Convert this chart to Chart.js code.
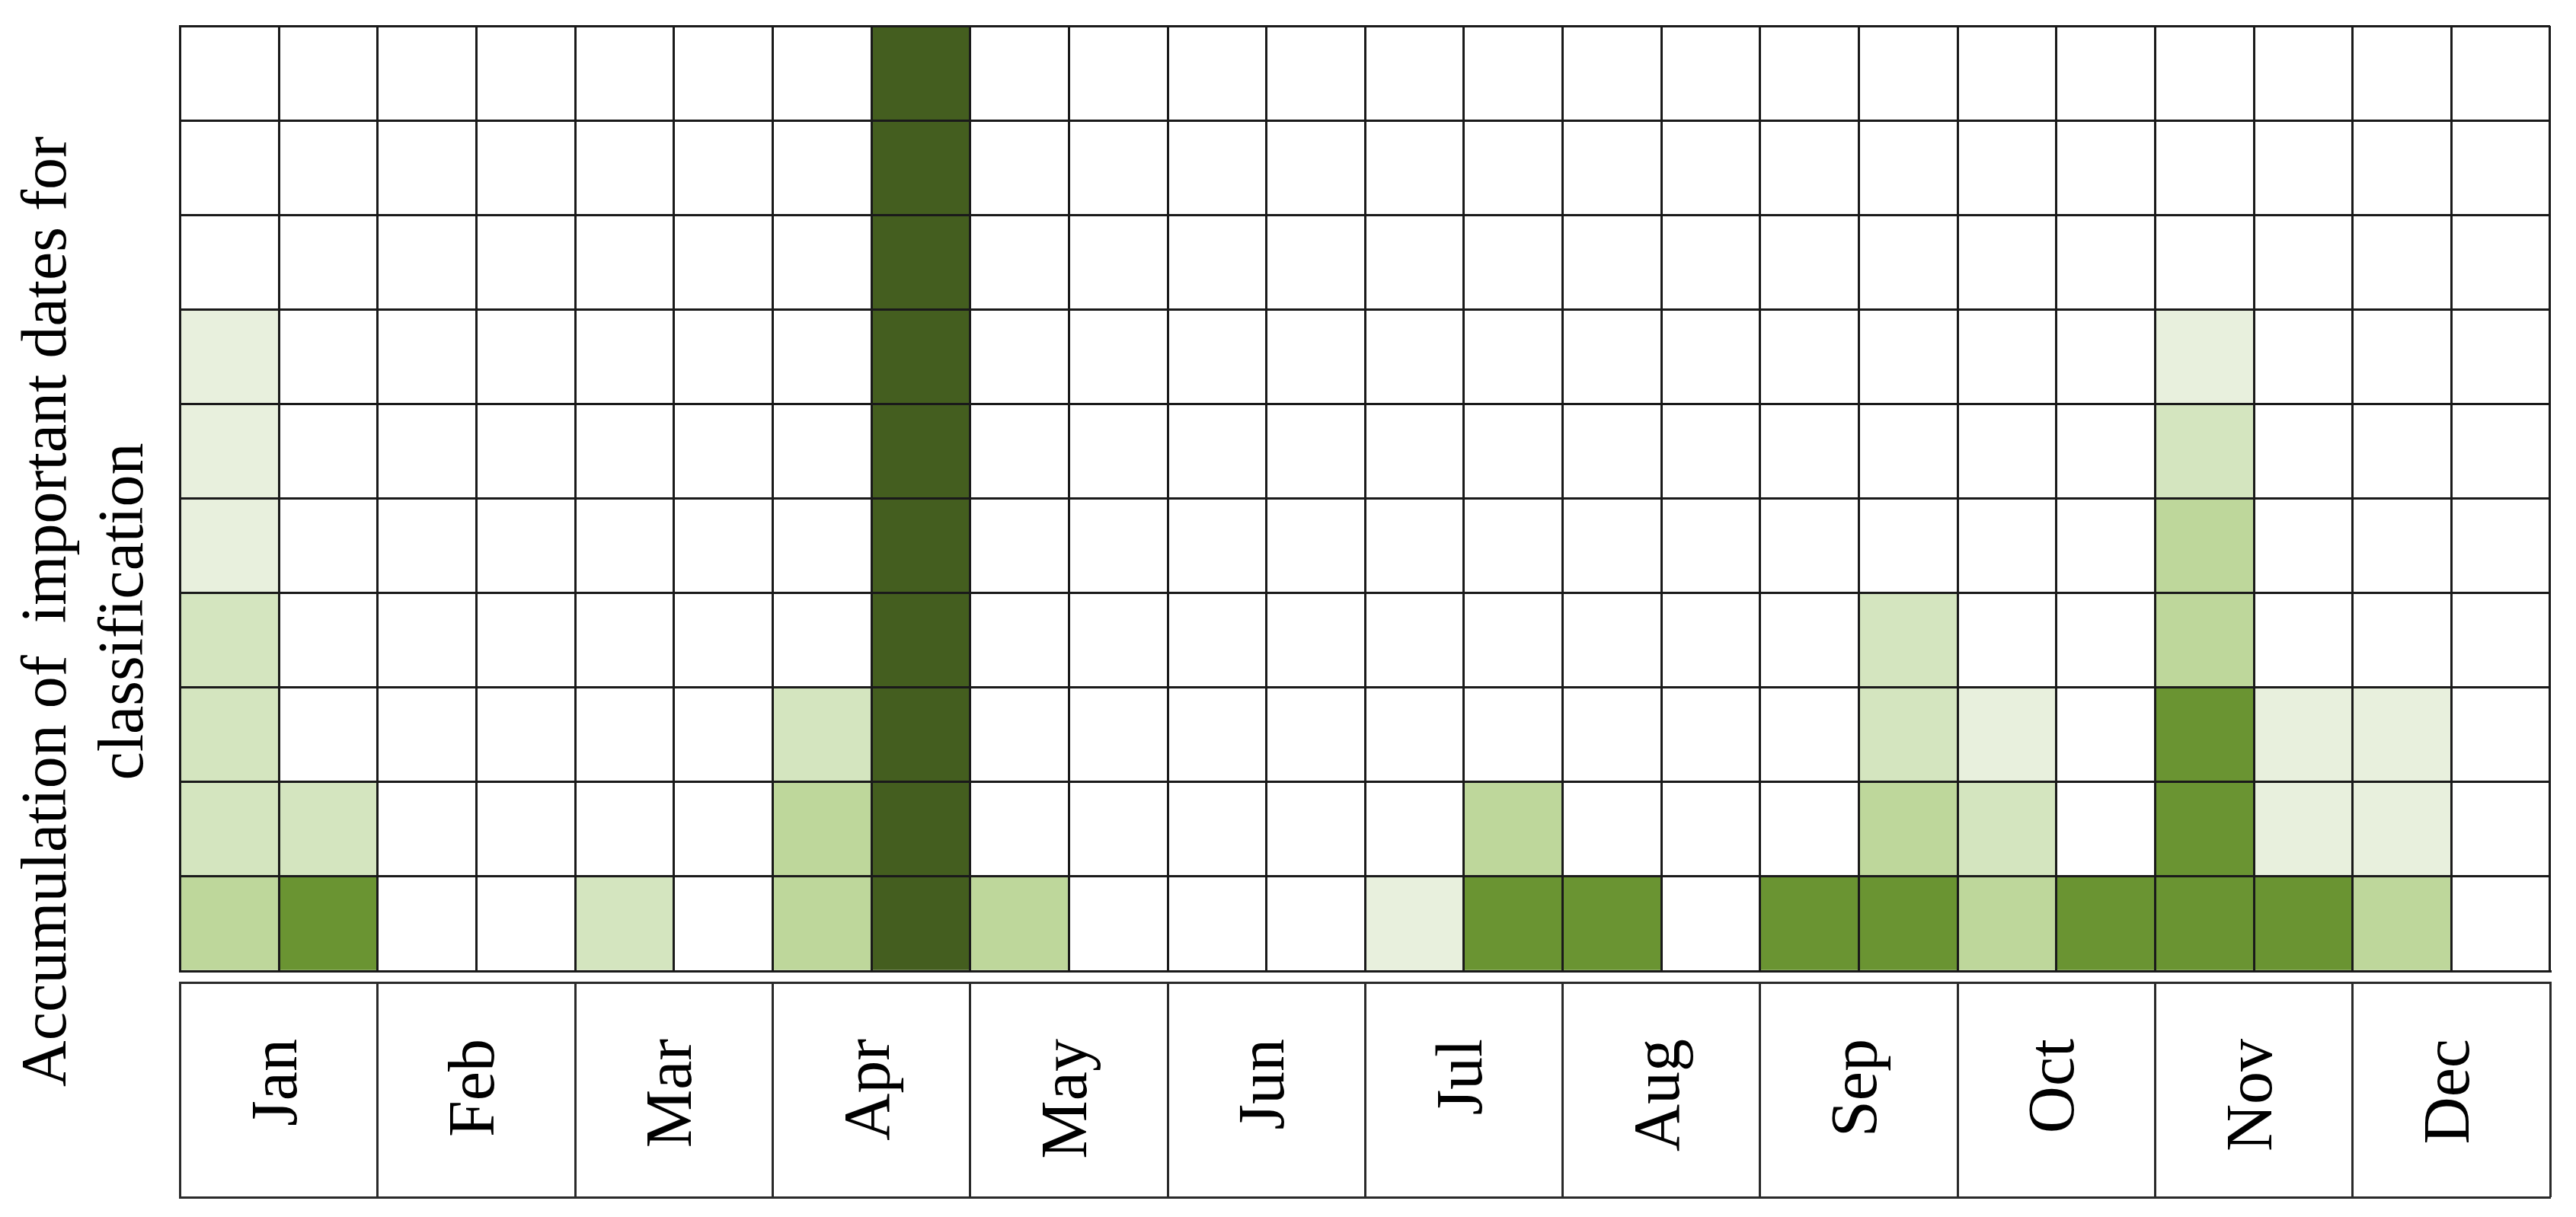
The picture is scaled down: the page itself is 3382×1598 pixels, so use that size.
<!DOCTYPE html>
<html>
<head>
<meta charset="utf-8">
<title>Accumulation of important dates</title>
<script src="https://cdn.jsdelivr.net/npm/chart.js@4.4.1/dist/chart.umd.min.js"></script>
<style>
    html, body { margin: 0; padding: 0; background: #fff; }
    canvas { display: block; }
</style>
</head>
<body>
<canvas id="dates-chart" width="3382" height="1598"></canvas>
<script>
// month tick labels
const months = ['Jan', 'Feb', 'Mar', 'Apr', 'May', 'Jun', 'Jul', 'Aug', 'Sep', 'Oct', 'Nov', 'Dec'];

// one column per half month
const halfMonths = [
    'Jan 1', 'Jan 2', 'Feb 1', 'Feb 2', 'Mar 1', 'Mar 2', 'Apr 1', 'Apr 2',
    'May 1', 'May 2', 'Jun 1', 'Jun 2', 'Jul 1', 'Jul 2', 'Aug 1', 'Aug 2',
    'Sep 1', 'Sep 2', 'Oct 1', 'Oct 2', 'Nov 1', 'Nov 2', 'Dec 1', 'Dec 2'
];

// rows of the accumulation grid
const rowCount = 10;

// level of every stacked cell in a column, bottom cell first (missing = empty)
const columnLevels = [
    [3, 2, 2, 2, 1, 1, 1],
    [4, 2],
    [],
    [],
    [2],
    [],
    [3, 3, 2],
    [5, 5, 5, 5, 5, 5, 5, 5, 5, 5],
    [3],
    [],
    [],
    [],
    [1],
    [4, 3],
    [4],
    [],
    [4],
    [4, 3, 2, 2],
    [3, 2, 1],
    [4],
    [4, 4, 4, 3, 3, 2, 1],
    [4, 1, 1],
    [3, 1, 1],
    []
];

const levelColors = ['#ffffff', '#e8f0dd', '#d4e5bf', '#bed79b', '#6a9432', '#445e1f'];
const lineColor = '#1a1a1a';
const boxColor = '#2a2a2a';
const serif = "'Liberation Serif', 'Times New Roman', serif";

function buildDatasets() {
    const datasets = [];
    for (let row = 0; row < rowCount; row++) {
        datasets.push({
            label: 'row ' + (row + 1),
            data: halfMonths.map(() => 1),
            backgroundColor: halfMonths.map((_, col) => levelColors[columnLevels[col][row] || 0]),
            borderWidth: 0,
            barPercentage: 1,
            categoryPercentage: 1
        });
    }
    return datasets;
}

new Chart(document.getElementById('dates-chart'), {
    type: 'bar',
    data: {
        labels: halfMonths,
        datasets: buildDatasets()
    },
    options: {
        responsive: false,
        animation: false,
        devicePixelRatio: 1,
        layout: {
            padding: { left: 0, top: 34, right: 34, bottom: 26 }
        },
        plugins: {
            legend: { display: false },
            tooltip: { enabled: false },
            title: {
                display: true,
                position: 'left',
                text: ['Accumulation of  important dates for', 'classification'],
                color: '#000',
                font: { family: serif, size: 84, weight: 'normal', lineHeight: 1.2 },
                padding: { top: 14, bottom: 21 }
            }
        },
        scales: {
            x: {
                type: 'category',
                stacked: true,
                offset: true,
                weight: 0,
                grid: {
                    offset: true,
                    z: 1,
                    color: lineColor,
                    lineWidth: 3,
                    tickLength: 15,
                    tickColor: 'rgba(0,0,0,0)'
                },
                border: { display: true, z: 1, color: lineColor, width: 3 },
                ticks: { display: false }
            },
            months: {
                type: 'category',
                labels: months,
                position: 'bottom',
                offset: true,
                weight: 1,
                grid: {
                    offset: true,
                    drawOnChartArea: false,
                    color: boxColor,
                    lineWidth: 3,
                    tickLength: 282
                },
                border: { display: true, color: boxColor, width: 3 },
                ticks: {
                    autoSkip: false,
                    minRotation: 90,
                    maxRotation: 90,
                    padding: -208,
                    color: '#000',
                    font: { family: serif, size: 86 }
                },
                afterFit: (scale) => {
                    // the month boxes are exactly as tall as their tick marks
                    scale.height = scale.options.grid.tickLength;
                }
            },
            frame: {
                type: 'category',
                labels: months,
                position: 'bottom',
                offset: true,
                weight: 2,
                grid: { drawOnChartArea: false, drawTicks: false },
                border: { display: true, color: boxColor, width: 3 },
                ticks: { display: false }
            },
            y: {
                stacked: true,
                min: 0,
                max: rowCount,
                ticks: { display: false, stepSize: 1 },
                grid: { z: 1, color: lineColor, lineWidth: 3, drawTicks: false },
                border: { display: true, z: 1, color: lineColor, width: 3 }
            }
        }
    }
});
</script>
</body>
</html>
